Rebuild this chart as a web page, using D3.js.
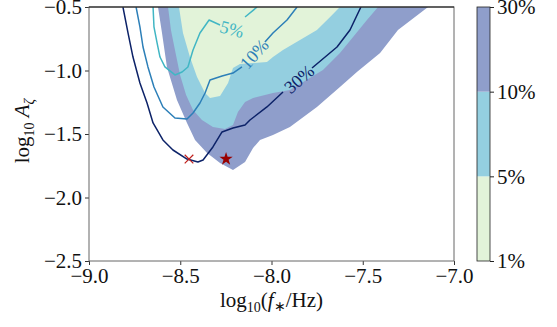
<!DOCTYPE html>
<html>
<head>
<meta charset="utf-8">
<script src="https://cdn.jsdelivr.net/npm/d3@7"></script>
<style>
  body { margin: 0; background: #fff; }
  svg text { font-family: "Liberation Serif", "Times New Roman", serif; }
</style>
</head>
<body>
<div class="article"></div>
<script>
// contour outlines, as [log10 f*, log10 A] pairs
var fill30 = [[-8.622,-0.5],[-8.600,-0.705],[-8.573,-0.972],[-8.518,-1.232],[-8.463,-1.413],
  [-8.419,-1.547],[-8.353,-1.650],[-8.282,-1.728],[-8.211,-1.783],[-8.145,-1.720],[-8.101,-1.610],
  [-8.063,-1.547],[-7.992,-1.508],[-7.899,-1.445],[-7.751,-1.287],[-7.625,-1.130],[-7.532,-1.012],
  [-7.405,-0.862],[-7.307,-0.681],[-7.142,-0.5]];
var fill10 = [[-8.567,-0.5],[-8.551,-0.681],[-8.529,-0.839],[-8.501,-1.035],[-8.468,-1.193],
  [-8.430,-1.311],[-8.381,-1.390],[-8.321,-1.445],[-8.255,-1.461],[-8.211,-1.429],[-8.184,-1.327],
  [-8.145,-1.248],[-8.101,-1.217],[-7.992,-1.177],[-7.899,-1.154],[-7.718,-0.996],[-7.625,-0.862],
  [-7.553,-0.736],[-7.477,-0.602],[-7.416,-0.5]];
var fill5 = [[-8.507,-0.5],[-8.485,-0.705],[-8.447,-0.894],[-8.408,-1.051],[-8.364,-1.177],
  [-8.337,-1.217],[-8.282,-1.201],[-8.238,-1.098],[-8.211,-0.980],[-8.173,-0.949],[-8.101,-0.941],
  [-8.025,-0.933],[-7.992,-0.894],[-7.937,-0.839],[-7.844,-0.760],[-7.751,-0.681],[-7.679,-0.579],
  [-7.625,-0.5]];

// line contours, each split in two where the inline label sits
var line30 = [
  [[-8.814,-0.5],[-8.786,-0.705],[-8.759,-0.894],[-8.721,-1.098],[-8.682,-1.256],[-8.649,-1.413],
   [-8.595,-1.547],[-8.540,-1.626],[-8.463,-1.697],[-8.403,-1.720],[-8.375,-1.705],[-8.321,-1.602],
   [-8.271,-1.484],[-8.211,-1.453],[-8.145,-1.429],[-8.118,-1.390],[-8.025,-1.287],[-7.937,-1.169]],
  [[-7.778,-0.980],[-7.641,-0.815],[-7.570,-0.681],[-7.510,-0.5]]
];
var line10 = [
  [[-8.742,-0.5],[-8.721,-0.657],[-8.704,-0.815],[-8.677,-0.972],[-8.644,-1.130],[-8.595,-1.287],
   [-8.529,-1.374],[-8.463,-1.382],[-8.430,-1.335],[-8.392,-1.256],[-8.364,-1.177],[-8.337,-1.075],
   [-8.271,-1.043],[-8.211,-1.020],[-8.162,-0.972]],
  [[-8.036,-0.776],[-7.992,-0.705],[-7.915,-0.602],[-7.860,-0.5]]
];
var line5 = [
  [[-8.649,-0.5],[-8.644,-0.657],[-8.627,-0.783],[-8.611,-0.894],[-8.584,-0.972],[-8.529,-1.035],
   [-8.490,-1.012],[-8.458,-0.972],[-8.430,-0.839],[-8.392,-0.705],[-8.342,-0.602],[-8.282,-0.642]],
  [[-8.145,-0.579],[-8.079,-0.5]]
];

// inline contour labels
var lineLabels = ["5%", "10%", "30%"];
var lineLabelPos = [[-8.216,-0.673], [-8.096,-0.870], [-7.849,-1.067]];
var lineLabelAngle = [15, -48, -41];

// best-fit points
var crossPoint = [-8.452, -1.697];
var starPoint = [-8.249, -1.697];

var xTicks = [-9.0, -8.5, -8.0, -7.5, -7.0];
var yTicks = [-2.5, -2.0, -1.5, -1.0, -0.5];
var levelLabels = ["1%", "5%", "10%", "30%"];
var fillColors = ["#e2f3d9", "#94cfe0", "#8f9ecb"];
var lineColors = ["#41b6c4", "#2c7fb8", "#0c2268"];

var serif = "'Liberation Serif', 'Times New Roman', serif";

var svgWidth = 557;
var svgHeight = 327;
var margin = { top: 7, right: 103, bottom: 66, left: 89 };
var chartWidth = svgWidth - margin.left - margin.right;
var chartHeight = svgHeight - margin.top - margin.bottom;

var svg = d3.select(".article")
  .append("svg")
  .attr("width", svgWidth)
  .attr("height", svgHeight)
  .style("font-family", serif);

var chartGroup = svg.append("g")
  .attr("transform", `translate(${margin.left}, ${margin.top})`);

var xScale = d3.scaleLinear().domain([-9, -7]).range([0, chartWidth]);
var yScale = d3.scaleLinear().domain([-2.5, -0.5]).range([chartHeight, 0]);

svg.append("defs").append("clipPath").attr("id", "clip")
  .append("rect").attr("width", chartWidth).attr("height", chartHeight);

var plot = chartGroup.append("g").attr("clip-path", "url(#clip)");

var drawLine = d3.line()
  .x(d => xScale(d[0]))
  .y(d => yScale(d[1]));

// filled regions, outermost first
[fill30, fill10, fill5].forEach(function(poly, i) {
  plot.append("path")
    .attr("d", drawLine(poly) + "Z")
    .attr("fill", fillColors[2 - i]);
});

// contour lines
[line5, line10, line30].forEach(function(parts, i) {
  parts.forEach(function(part) {
    plot.append("path")
      .attr("d", drawLine(part))
      .attr("fill", "none")
      .attr("stroke", lineColors[i])
      .attr("stroke-width", 1.5)
      .attr("stroke-linejoin", "round");
  });
});

lineLabels.forEach(function(lab, i) {
  var px = xScale(lineLabelPos[i][0]);
  var py = yScale(lineLabelPos[i][1]);
  plot.append("text")
    .attr("transform", `translate(${px}, ${py}) rotate(${lineLabelAngle[i]})`)
    .attr("text-anchor", "middle")
    .attr("dy", "0.35em")
    .style("font-family", serif)
    .style("font-size", "18px")
    .attr("fill", lineColors[i])
    .text(lab);
});

// markers
var xSym = d3.symbolX ? d3.symbolX : d3.symbolCross;
plot.append("path")
  .attr("d", d3.symbol().type(xSym).size(50)())
  .attr("transform", `translate(${xScale(crossPoint[0])}, ${yScale(crossPoint[1])})`)
  .attr("fill", "none")
  .attr("stroke", "#c0201c")
  .attr("stroke-width", 1.2);

plot.append("path")
  .attr("d", d3.symbol().type(d3.symbolStar).size(55)())
  .attr("transform", `translate(${xScale(starPoint[0])}, ${yScale(starPoint[1])})`)
  .attr("fill", "#990000");

// axes
var fmt = d => d3.format(".1f")(d).replace("-", "\u2212");
var bottomAxis = d3.axisBottom(xScale).tickValues(xTicks).tickSize(4).tickPadding(3).tickFormat(fmt);
var leftAxis = d3.axisLeft(yScale).tickValues(yTicks).tickSize(4).tickPadding(3).tickFormat(fmt);

var gx = chartGroup.append("g")
  .attr("transform", `translate(0, ${chartHeight})`)
  .call(bottomAxis);
var gy = chartGroup.append("g").call(leftAxis);

[gx, gy].forEach(function(g) {
  g.attr("font-family", null).attr("font-size", null);
  g.select(".domain").remove();
  g.selectAll("line").attr("stroke", "#333");
  g.selectAll("text")
    .style("font-family", serif)
    .style("font-size", "21px")
    .attr("fill", "#111");
});

// frame: gray left/right/bottom, darker top
chartGroup.append("rect")
  .attr("width", chartWidth)
  .attr("height", chartHeight)
  .attr("fill", "none")
  .attr("stroke", "#666")
  .attr("stroke-width", 1);
chartGroup.append("line")
  .attr("x1", 0).attr("x2", chartWidth)
  .attr("y1", 0).attr("y2", 0)
  .attr("stroke", "#111")
  .attr("stroke-width", 1);

// axis titles
var xTitle = svg.append("text")
  .attr("x", margin.left + chartWidth / 2)
  .attr("y", 307)
  .attr("text-anchor", "middle")
  .style("font-family", serif)
  .style("font-size", "21px")
  .attr("fill", "#111");
xTitle.append("tspan").text("log");
xTitle.append("tspan").attr("dy", 5).style("font-size", "14px").text("10");
xTitle.append("tspan").attr("dy", -5).text("(");
xTitle.append("tspan").attr("font-style", "italic").text("f");
xTitle.append("tspan").attr("dy", 4).style("font-size", "14px").text("\u2217");
xTitle.append("tspan").attr("dy", -4).text("/Hz)");

var yTitle = svg.append("text")
  .attr("transform", `translate(29, ${margin.top + chartHeight / 2 - 3}) rotate(-90)`)
  .attr("text-anchor", "middle")
  .style("font-family", serif)
  .style("font-size", "21px")
  .attr("fill", "#111");
yTitle.append("tspan").text("log");
yTitle.append("tspan").attr("dy", 5).style("font-size", "14px").text("10");
yTitle.append("tspan").attr("dy", -5).text(" ");
yTitle.append("tspan").attr("font-style", "italic").text("A");
yTitle.append("tspan").attr("dy", 5).style("font-size", "14px").attr("font-style", "italic").text("\u03b6");

// colorbar
var cbX = 477, cbW = 13;
var cbScale = d3.scalePoint().domain(levelLabels).range([margin.top + chartHeight, margin.top]);
var cb = svg.append("g");
levelLabels.slice(0, 3).forEach(function(lab, i) {
  var y0 = cbScale(levelLabels[i]);
  var y1 = cbScale(levelLabels[i + 1]);
  cb.append("rect")
    .attr("x", cbX).attr("y", y1)
    .attr("width", cbW).attr("height", y0 - y1)
    .attr("fill", fillColors[i]);
});
cb.append("rect")
  .attr("x", cbX).attr("y", margin.top)
  .attr("width", cbW).attr("height", chartHeight)
  .attr("fill", "none").attr("stroke", "#222").attr("stroke-width", 0.8);
var cbAxis = d3.axisRight(cbScale).tickSize(4).tickPadding(3);
var gcb = svg.append("g")
  .attr("transform", `translate(${cbX + cbW}, 0)`)
  .call(cbAxis);
gcb.attr("font-family", null).attr("font-size", null);
gcb.select(".domain").remove();
gcb.selectAll("line").attr("stroke", "#222");
gcb.selectAll("text")
  .style("font-family", serif)
  .style("font-size", "21px")
  .attr("fill", "#111");
</script>
</body>
</html>
